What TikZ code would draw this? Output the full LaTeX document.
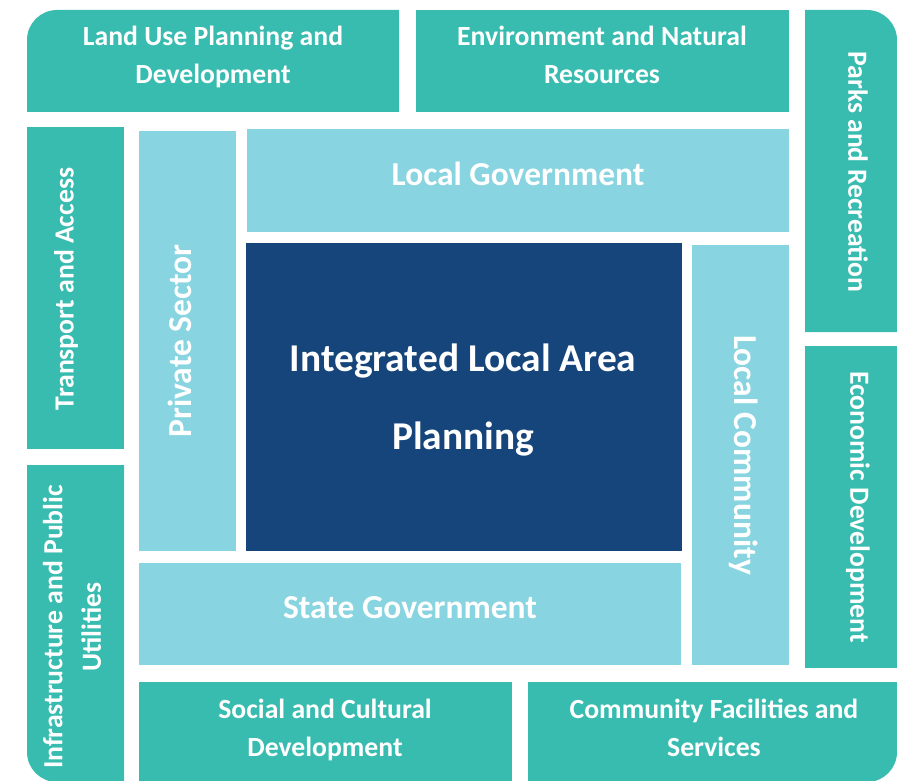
\documentclass[tikz,border=0pt]{standalone}
\usepackage{fontspec}
\setmainfont{Carlito}
\definecolor{tealbox}{HTML}{39BCB0}
\definecolor{lightbox}{HTML}{88D4E0}
\definecolor{navybox}{HTML}{15457A}

\begin{document}
\begin{tikzpicture}[x=1pt, y=-1pt,
    boxtext/.style={text=white, align=center, inner sep=0pt,
        font=\bfseries\fontsize{27.7}{38.5}\selectfont},
    midtext/.style={boxtext, font=\bfseries\fontsize{33.5}{40}\selectfont},
    bigtext/.style={boxtext, font=\bfseries\fontsize{39.4}{78}\selectfont}]
    \useasboundingbox (0,0) rectangle (897,781);

    % outer ring
    \fill[tealbox] (27,112) [rounded corners=30pt] -- (27,10) [sharp corners] -- (399,10) -- (399,112) -- cycle;
    \fill[tealbox] (416,10) rectangle (789,112);
    \fill[tealbox] (805,332) -- (805,10) [rounded corners=30pt] -- (897,10) [sharp corners] -- (897,332) -- cycle;
    \fill[tealbox] (805,346) rectangle (897,668);
    \fill[tealbox] (27,127) rectangle (124,449);
    \fill[tealbox] (124,465) -- (27,465) [rounded corners=30pt] -- (27,782) [sharp corners] -- (124,782) -- cycle;
    \fill[tealbox] (139,682) rectangle (512,782);
    \fill[tealbox] (528,682) -- (897,682) [rounded corners=30pt] -- (897,782) [sharp corners] -- (528,782) -- cycle;

    % inner ring
    \fill[lightbox] (139,131) rectangle (236,551);
    \fill[lightbox] (247,129) rectangle (789,232);
    \fill[lightbox] (692,245) rectangle (789,665);
    \fill[lightbox] (139,563) rectangle (681,665);

    % centre
    \fill[navybox] (246,243) rectangle (682,551);

    \node[boxtext] (landuse) at (213,57) {Land Use Planning and\\Development};
    \node[boxtext] (environment) at (602,55) {Environment and Natural\\Resources};
    \node[boxtext, rotate=-90] (parks) at (858,172) {Parks and Recreation};
    \node[boxtext, rotate=-90] (economic) at (858,507) {Economic Development};
    \node[boxtext, rotate=90] (transport) at (66,289) {Transport and Access};
    \node[boxtext, rotate=90] (infra) at (72,627) {Infrastructure and Public\\Utilities};
    \node[boxtext] (social) at (325,730) {Social and Cultural\\Development};
    \node[boxtext] (facilities) at (714,728) {Community Facilities and\\Services};

    \node[midtext, rotate=90] (private) at (180,341) {Private Sector};
    \node[midtext] (localgov) at (518,174) {Local Government};
    \node[midtext, rotate=-90] (community) at (744,455) {Local Community};
    \node[midtext] (stategov) at (410,608) {State Government};

    \node[bigtext] (ilap) at (463,400) {Integrated Local Area\\Planning};
\end{tikzpicture}
\end{document}
